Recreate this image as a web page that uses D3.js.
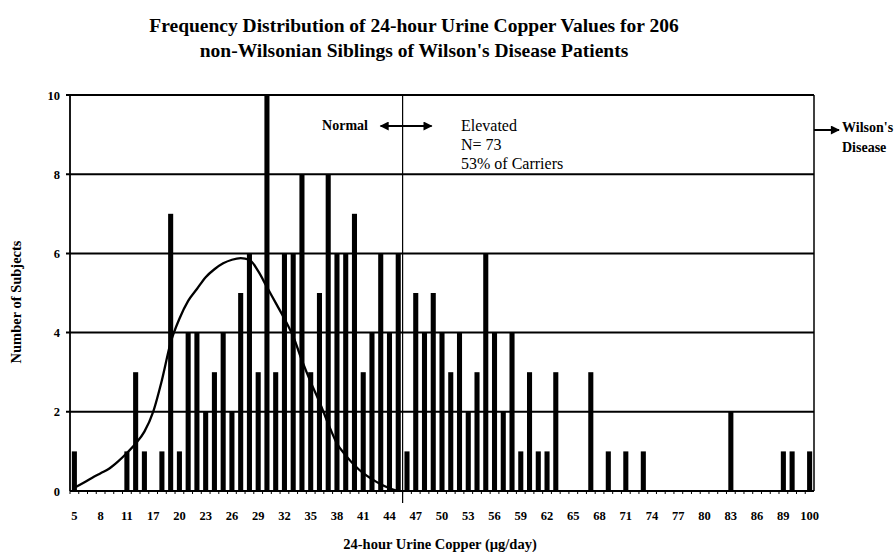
<!DOCTYPE html>
<html lang="en">
<head>
<meta charset="UTF-8">
<title>Urine copper frequency</title>
<script src="https://d3js.org/d3.v7.min.js"></script>
<style>
    body { margin: 0; background: #fff; }
    svg { display: block; font-family: "Liberation Serif", "Times New Roman", serif; }
</style>
</head>
<body>
<svg width="896" height="552"></svg>
<script>
    // category axis (values in ug/day); the two unlabelled slots after 11 and after 89 are guesses
    let categories = ['5', '6', '7', '8', '9', '10', '11', '13', '15',
        '17', '18', '19', '20', '21', '22', '23', '24', '25', '26', '27', '28', '29', '30',
        '31', '32', '33', '34', '35', '36', '37', '38', '39', '40', '41', '42', '43', '44',
        '45', '46', '47', '48', '49', '50', '51', '52', '53', '54', '55', '56', '57', '58',
        '59', '60', '61', '62', '63', '64', '65', '66', '67', '68', '69', '70', '71', '72',
        '73', '74', '75', '76', '77', '78', '79', '80', '81', '82', '83', '84', '85', '86',
        '87', '88', '89', '92', '96', '100']

    // number of subjects per category
    let counts = [1, 0, 0, 0, 0, 0, 1, 3, 1,
        0, 1, 7, 1, 4, 4, 2, 3, 4, 2, 5, 6, 3, 10,
        3, 6, 6, 8, 3, 5, 8, 6, 6, 7, 3, 4, 6, 4,
        6, 1, 5, 4, 5, 4, 3, 4, 2, 3, 6, 4, 2, 4,
        1, 3, 1, 1, 3, 0, 0, 0, 3, 0, 1, 0, 1, 0,
        1, 0, 0, 0, 0, 0, 0, 0, 0, 0, 2, 0, 0, 0,
        0, 0, 1, 1, 0, 1]

    // fitted curve, one value per category from 5 to 45
    let curveValues = [0.08, 0.2, 0.33, 0.45, 0.57, 0.75, 0.96, 1.2, 1.5,
        2.0, 2.8, 3.75, 4.35, 4.8, 5.1, 5.4, 5.6, 5.75, 5.84, 5.88, 5.84, 5.55, 5.15,
        4.75, 4.35, 3.9, 3.3, 2.75, 2.25, 1.7, 1.2, 0.9, 0.65, 0.45, 0.3, 0.17, 0.07,
        0.0]

    let tickLabels = ['5', '8', '11', '17', '20', '23', '26', '29', '32', '35', '38', '41',
        '44', '47', '50', '53', '56', '59', '62', '65', '68', '71', '74', '77', '80', '83',
        '86', '89', '100']
    let yTicks = [0, 2, 4, 6, 8, 10]
    let threshold = '46'   // divider drawn at the left edge of this category

    let mLeft = 70, mRight = 814, mTop = 95, mBottom = 491

    let svg = d3.select('svg')

    let x = d3.scaleBand().domain(categories).range([mLeft, mRight]).paddingInner(0.42).paddingOuter(0.21)
    let y = d3.scaleLinear().domain([0, 10]).range([mBottom, mTop])
    let gap = x.step() - x.bandwidth()

    // title
    let title = svg.append('text')
        .attr('text-anchor', 'middle')
        .style('font-size', '19.5px').style('font-weight', 'bold')
    title.append('tspan').attr('x', 414).attr('y', 32)
        .text('Frequency Distribution of 24-hour Urine Copper Values for 206')
    title.append('tspan').attr('x', 414).attr('y', 57)
        .text("non-Wilsonian Siblings of Wilson's Disease Patients")

    // gridlines
    svg.append('g')
        .selectAll('line')
        .data(yTicks.filter(d => d > 0))
        .join('line')
        .attr('x1', mLeft - 4).attr('x2', mRight)
        .attr('y1', d => y(d)).attr('y2', d => y(d))
        .attr('stroke', '#000').attr('stroke-width', 2)

    // bars
    svg.append('g')
        .selectAll('rect')
        .data(categories.map((c, i) => ({ c: c, v: counts[i] })).filter(d => d.v > 0))
        .join('rect')
        .attr('x', d => x(d.c))
        .attr('width', x.bandwidth())
        .attr('y', d => y(d.v))
        .attr('height', d => y(0) - y(d.v))
        .attr('fill', '#000')

    // curve
    let line = d3.line()
        .x((d, i) => x(categories[i]) + x.bandwidth() / 2)
        .y(d => y(d))
        .curve(d3.curveMonotoneX)
    svg.append('path')
        .attr('d', line(curveValues))
        .attr('fill', 'none')
        .attr('stroke', '#000')
        .attr('stroke-width', 2.3)

    // frame lines
    svg.append('line').attr('x1', mLeft).attr('x2', mLeft).attr('y1', mTop).attr('y2', mBottom)
        .attr('stroke', '#000').attr('stroke-width', 1.8)
    svg.append('line').attr('x1', mRight).attr('x2', mRight).attr('y1', mTop).attr('y2', mBottom)
        .attr('stroke', '#000').attr('stroke-width', 1.5)
    svg.append('line').attr('x1', mLeft).attr('x2', mRight).attr('y1', mBottom).attr('y2', mBottom)
        .attr('stroke', '#000').attr('stroke-width', 2)

    // minor ticks at category boundaries
    svg.append('g')
        .selectAll('line')
        .data(categories)
        .join('line')
        .attr('x1', d => x(d) - gap / 2).attr('x2', d => x(d) - gap / 2)
        .attr('y1', mBottom).attr('y2', mBottom + 3)
        .attr('stroke', '#000').attr('stroke-width', 1)

    // x axis labels
    let xAxis = svg.append('g')
        .attr('transform', `translate(0,${mBottom})`)
        .call(d3.axisBottom(x).tickValues(tickLabels).tickSize(0).tickPadding(20))
    xAxis.select('.domain').remove()
    xAxis.selectAll('text')
        .style('font-family', '"Liberation Serif", serif')
        .style('font-size', '12.5px').style('font-weight', 'bold').attr('fill', '#000')

    // y axis labels
    let yAxis = svg.append('g')
        .attr('transform', `translate(${mLeft},0)`)
        .call(d3.axisLeft(y).tickValues(yTicks).tickSize(0).tickPadding(10))
    yAxis.select('.domain').remove()
    yAxis.selectAll('text')
        .style('font-family', '"Liberation Serif", serif')
        .style('font-size', '12.5px').style('font-weight', 'bold').attr('fill', '#000')

    // axis titles
    svg.append('text')
        .attr('transform', 'translate(21,302) rotate(-90)')
        .attr('text-anchor', 'middle')
        .style('font-size', '14.5px').style('font-weight', 'bold')
        .text('Number of Subjects')
    svg.append('text')
        .attr('x', 440).attr('y', 549).attr('text-anchor', 'middle')
        .style('font-size', '14.5px').style('font-weight', 'bold')
        .text('24-hour Urine Copper (\u00b5g/day)')

    // arrowheads
    let defs = svg.append('defs')
    defs.append('marker')
        .attr('id', 'head').attr('viewBox', '0 0 10 10')
        .attr('refX', 9).attr('refY', 5)
        .attr('markerWidth', 5).attr('markerHeight', 4.5)
        .attr('orient', 'auto-start-reverse')
        .append('path').attr('d', 'M0,0 L10,5 L0,10 Z').attr('fill', '#000')

    // normal / elevated divider
    let xCut = x(threshold) - gap / 2
    svg.append('line')
        .attr('x1', xCut).attr('x2', xCut).attr('y1', mTop).attr('y2', mBottom + 12)
        .attr('stroke', '#000').attr('stroke-width', 1.2)

    svg.append('text')
        .attr('x', 368).attr('y', 130).attr('text-anchor', 'end')
        .style('font-size', '14px').style('font-weight', 'bold')
        .text('Normal')
    svg.append('line')
        .attr('x1', xCut - 22).attr('x2', xCut + 29).attr('y1', 126).attr('y2', 126)
        .attr('stroke', '#000').attr('stroke-width', 2)
        .attr('marker-start', 'url(#head)').attr('marker-end', 'url(#head)')

    let elev = svg.append('text').style('font-size', '16px')
    elev.append('tspan').attr('x', 461).attr('y', 131).text('Elevated')
    elev.append('tspan').attr('x', 461).attr('y', 150).text('N= 73')
    elev.append('tspan').attr('x', 461).attr('y', 169).text('53% of Carriers')

    // Wilson's disease pointer
    svg.append('line')
        .attr('x1', mRight).attr('x2', mRight + 25).attr('y1', 130).attr('y2', 130)
        .attr('stroke', '#000').attr('stroke-width', 2)
        .attr('marker-end', 'url(#head)')
    let wil = svg.append('text').style('font-size', '14px').style('font-weight', 'bold')
    wil.append('tspan').attr('x', 842).attr('y', 132).text("Wilson's")
    wil.append('tspan').attr('x', 842).attr('y', 152).text('Disease')
</script>
</body>
</html>
